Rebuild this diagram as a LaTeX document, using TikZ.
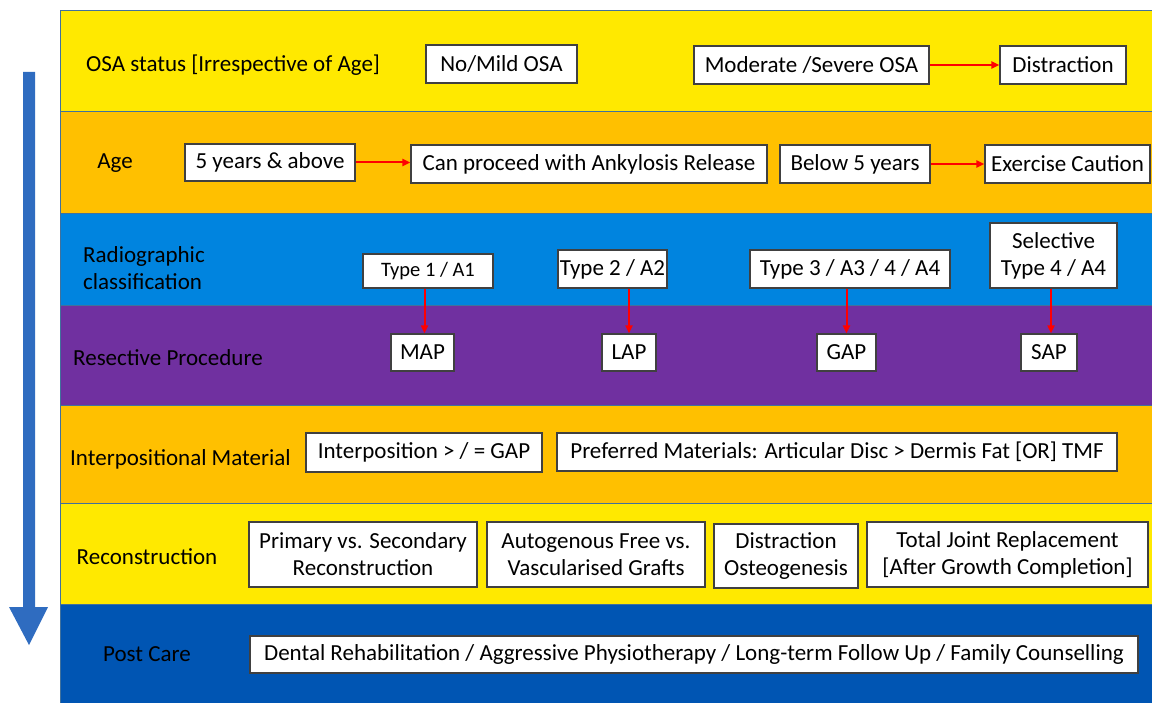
\documentclass[tikz,border=0pt]{standalone}
\usepackage{fontspec}
\setmainfont{Carlito}
\usetikzlibrary{arrows.meta}
\definecolor{cyel}{HTML}{FFE900}
\definecolor{corg}{HTML}{FFC000}
\definecolor{cblu}{HTML}{0084DF}
\definecolor{cpur}{HTML}{7030A0}
\definecolor{cdbl}{HTML}{0055B3}
\definecolor{cedge}{HTML}{41719C}
\definecolor{carrow}{HTML}{2F6CC0}
\definecolor{cbox}{HTML}{404040}
\tikzset{
  band/.style={draw=cedge, line width=0.8pt},
  box/.style={draw=cbox, fill=white, line width=1.3pt, inner sep=0pt, align=center,
    font=\fontsize{23}{27}\selectfont},
  lbl/.style={font=\fontsize{23}{27}\selectfont, inner sep=0pt, align=left},
  redarr/.style={draw=red, line width=2pt, -{Triangle[length=8pt,width=7pt]}}
}
\begin{document}
\begin{tikzpicture}[x=1pt,y=-1pt]
\useasboundingbox (0,0) rectangle (1152,703);
% bands
\fill[cyel] (60,10) rectangle (1152,111);
\fill[corg] (60,111) rectangle (1152,213);
\fill[cblu] (60,213) rectangle (1152,305);
\fill[cpur] (60,305) rectangle (1152,405);
\fill[corg] (60,405) rectangle (1152,503);
\fill[cyel] (60,503) rectangle (1152,604);
\fill[cdbl] (60,604) rectangle (1152,703);
\draw[band] (1152,10) -- (60,10) -- (60,703);
\foreach \y in {111,213,305,405,503,604} \draw[band] (60,\y) -- (1152,\y);
% left arrow
\fill[carrow] (23,72) -- (35,72) -- (35,607) -- (48,607) -- (29,645) -- (9,607) -- (23,607) -- cycle;
% band labels
\node[lbl, anchor=west] (l1) at (86,65) {OSA status [Irrespective of Age]};
\node[lbl] (l2) at (115,163) {Age};
\node[lbl, anchor=west] (l3) at (83,268) {Radiographic\\classification};
\node[lbl, anchor=west] (l4) at (73,358) {Resective Procedure};
\node[lbl, anchor=west] (l5) at (70,459) {Interpositional Material};
\node[lbl] (l6) at (147,557) {Reconstruction};
\node[lbl] (l7) at (147,654) {Post Care};
% band 1
\node[box, minimum width=151, minimum height=38] (nomild) at (501.5,64) {No/Mild OSA};
\node[box, minimum width=235, minimum height=38] (mod) at (811.5,65) {Moderate /Severe OSA};
\node[box, minimum width=126, minimum height=38] (dist) at (1063,65) {Distraction};
\draw[redarr] (mod.east) -- (dist.west);
% band 2
\node[box, minimum width=170, minimum height=37] (five) at (270,162.5) {5 years \& above};
\node[box, minimum width=356, minimum height=38] (proc) at (589,164) {Can proceed with Ankylosis Release};
\node[box, minimum width=150, minimum height=38] (below) at (855,164) {Below 5 years};
\node[box, minimum width=165, minimum height=38] (caut) at (1067.5,164) {Exercise Caution};
\draw[redarr] (five.east) -- (five.east -| proc.west);
\draw[redarr] (below.east) -- (caut.west);
% band 3
\node[box, minimum width=130, minimum height=34, font=\fontsize{20.5}{24}\selectfont] (t1) at (428,271) {Type 1 / A1};
\node[box, minimum width=109, minimum height=38] (t2) at (612.5,269) {Type 2 / A2};
\node[box, minimum width=200, minimum height=38] (t3) at (850,269) {Type 3 / A3 / 4 / A4};
\node[box, minimum width=127, minimum height=65] (t4) at (1053.5,255.5) {Selective\\Type 4 / A4};
% band 4
\node[box, minimum width=63, minimum height=37] (map) at (422.5,352.5) {MAP};
\node[box, minimum width=54, minimum height=37] (lap) at (629,352.5) {LAP};
\node[box, minimum width=59, minimum height=37] (gap) at (846.5,352.5) {GAP};
\node[box, minimum width=56, minimum height=37] (sap) at (1049,352.5) {SAP};
\draw[redarr] ([xshift=2pt]map.north |- t1.south) -- ([xshift=2pt]map.north);
\draw[redarr] (lap.north |- t2.south) -- (lap.north);
\draw[redarr] (gap.north |- t3.south) -- (gap.north);
\draw[redarr] ([xshift=2pt]sap.north |- t4.south) -- ([xshift=2pt]sap.north);
% band 5
\node[box, minimum width=236, minimum height=39] (interp) at (424,452.5) {Interposition > / = GAP};
\node[box, minimum width=560, minimum height=38] (pref) at (837,452) {Preferred Materials: Articular Disc > Dermis Fat [OR] TMF};
% band 6
\node[box, minimum width=228, minimum height=65] (prim) at (363,554.5) {Primary vs. Secondary\\Reconstruction};
\node[box, minimum width=218, minimum height=65] (auto) at (596,554.5) {Autogenous Free vs.\\Vascularised Grafts};
\node[box, minimum width=144, minimum height=64] (disto) at (786,556) {Distraction\\Osteogenesis};
\node[box, minimum width=281, minimum height=65] (tjr) at (1007.5,554.5) {Total Joint Replacement\\{[After Growth Completion]}};
% band 7
\node[box, minimum width=888, minimum height=37] (post) at (694,654.5) {Dental Rehabilitation / Aggressive Physiotherapy / Long-term Follow Up / Family Counselling};
\end{tikzpicture}
\end{document}
